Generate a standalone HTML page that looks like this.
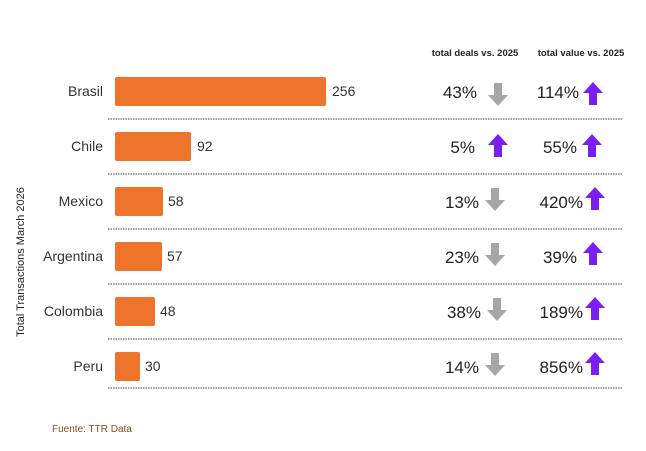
<!DOCTYPE html>
<html><head><meta charset="utf-8"><style>
body{margin:0;background:#fff}
svg{display:block;font-family:"Liberation Sans",sans-serif}
</style></head><body>
<svg width="646" height="451" viewBox="0 0 646 451" xmlns="http://www.w3.org/2000/svg">
<defs>
<path id="up" d="M0,-12 L10,-1 L4,-1 L4,11 L-4,11 L-4,-1 L-10,-1 Z"/>
<path id="dn" d="M0,12 L10,1 L4,1 L4,-11 L-4,-11 L-4,1 L-10,1 Z"/>
</defs>
<text x="475" y="56" font-size="9.5" font-weight="bold" fill="#222" text-anchor="middle">total deals vs. 2025</text>
<text x="581" y="56" font-size="9.5" font-weight="bold" fill="#222" text-anchor="middle">total value vs. 2025</text>
<text transform="translate(24,262) rotate(-90)" font-size="11" fill="#222" text-anchor="middle">Total Transactions  March 2026</text>
<g stroke="#444" stroke-width="1" stroke-dasharray="1.5,1">
<line x1="108" y1="119" x2="622" y2="119"/><line x1="108" y1="174" x2="622" y2="174"/>
<line x1="108" y1="229" x2="622" y2="229"/><line x1="108" y1="284" x2="622" y2="284"/>
<line x1="108" y1="339" x2="622" y2="339"/><line x1="108" y1="388" x2="622" y2="388"/>
</g>
<g fill="#ee742b">
<rect x="115" y="77" width="211" height="29" rx="2"/>
<rect x="115" y="132" width="76" height="29" rx="2"/>
<rect x="115" y="187" width="48" height="29" rx="2"/>
<rect x="115" y="242" width="47" height="29" rx="2"/>
<rect x="115" y="297" width="40" height="29" rx="2"/>
<rect x="115" y="352" width="25" height="29" rx="2"/>
</g>
<g font-size="14" fill="#333" text-anchor="end">
<text x="103" y="96">Brasil</text><text x="103" y="151">Chile</text><text x="103" y="206">Mexico</text>
<text x="103" y="261">Argentina</text><text x="103" y="316">Colombia</text><text x="103" y="371">Peru</text>
</g>
<g font-size="14" fill="#333">
<text x="332" y="96">256</text><text x="197" y="151">92</text><text x="168" y="206">58</text>
<text x="167" y="261">57</text><text x="160" y="316">48</text><text x="145" y="371">30</text>
</g>
<g font-size="17" fill="#222" text-anchor="end">
<text x="477" y="98">43%</text><text x="475" y="153">5%</text><text x="479" y="208">13%</text>
<text x="479" y="263">23%</text><text x="481" y="318">38%</text><text x="479" y="373">14%</text>
<text x="579" y="98">114%</text><text x="577" y="153">55%</text><text x="583" y="208">420%</text>
<text x="577" y="263">39%</text><text x="583" y="318">189%</text><text x="583" y="373">856%</text>
</g>
<g>
<use href="#dn" x="498" y="94" fill="#a6a6a6"/>
<use href="#up" x="498" y="146" fill="#7a1ff2"/>
<use href="#dn" x="495" y="199" fill="#a6a6a6"/>
<use href="#dn" x="495" y="254" fill="#a6a6a6"/>
<use href="#dn" x="497" y="309" fill="#a6a6a6"/>
<use href="#dn" x="495" y="364" fill="#a6a6a6"/>
<use href="#up" x="593" y="94" fill="#7a1ff2"/>
<use href="#up" x="592" y="146" fill="#7a1ff2"/>
<use href="#up" x="595" y="199" fill="#7a1ff2"/>
<use href="#up" x="593" y="254" fill="#7a1ff2"/>
<use href="#up" x="595" y="309" fill="#7a1ff2"/>
<use href="#up" x="595" y="364" fill="#7a1ff2"/>
</g>
<text x="52" y="432" font-size="10" fill="#8a4a1e">Fuente: TTR Data</text>
</svg>
</body></html>
